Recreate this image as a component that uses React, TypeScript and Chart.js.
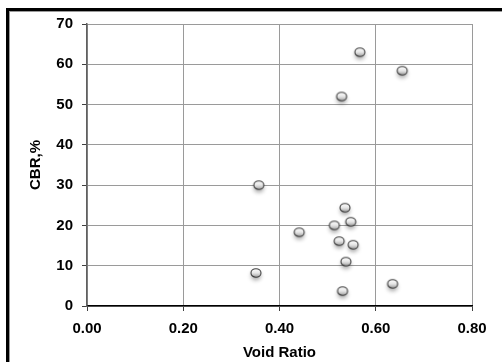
import React, { useEffect, useRef } from "react";
import { Chart, registerables } from "chart.js";

Chart.register(...registerables);

const voidRatio = [0.567, 0.655, 0.529, 0.357, 0.536, 0.548, 0.514, 0.441, 0.524, 0.553, 0.538, 0.351, 0.635, 0.531];
const cbr = [63.0, 58.4, 52.0, 30.0, 24.4, 20.9, 20.0, 18.3, 16.1, 15.2, 11.0, 8.2, 5.5, 3.7];
const xTicks = [0, 0.2, 0.4, 0.6, 0.8];
const yTicks = [0, 10, 20, 30, 40, 50, 60, 70];

function makeMarker(): HTMLCanvasElement {
  const c = document.createElement("canvas");
  c.width = 24;
  c.height = 24;
  const ctx = c.getContext("2d")!;
  ctx.save();
  ctx.shadowColor = "rgba(0,0,0,0.35)";
  ctx.shadowBlur = 4;
  ctx.shadowOffsetY = 3;
  ctx.beginPath();
  ctx.ellipse(12, 12, 5, 4.3, 0, 0, Math.PI * 2);
  const g = ctx.createLinearGradient(12, 7.5, 12, 16.5);
  g.addColorStop(0, "#ffffff");
  g.addColorStop(0.5, "#e6e6e6");
  g.addColorStop(1, "#9a9a9a");
  ctx.fillStyle = g;
  ctx.fill();
  ctx.restore();
  ctx.beginPath();
  ctx.ellipse(12, 12, 5, 4.3, 0, 0, Math.PI * 2);
  ctx.lineWidth = 1.1;
  ctx.strokeStyle = "#3c3c3c";
  ctx.stroke();
  return c;
}

export default function App() {
  const ref = useRef<HTMLCanvasElement | null>(null);
  useEffect(() => {
    if (!ref.current) return;
    const marker = makeMarker();
    const font = { family: "'Liberation Sans', Arial, sans-serif", size: 15, weight: "bold" as const };
    const chart = new Chart(ref.current, {
      type: "scatter",
      data: {
        datasets: [
          {
            data: voidRatio.map((v, i) => ({ x: v, y: cbr[i] })),
            pointStyle: marker,
            pointRadius: 6,
          },
        ],
      },
      options: {
        animation: false,
        responsive: false,
        devicePixelRatio: 1,
        layout: { padding: { left: 0, top: 24, right: 30, bottom: 0 } },
        plugins: { legend: { display: false }, tooltip: { enabled: false } },
        scales: {
          x: {
            type: "linear",
            min: 0,
            max: 0.8,
            afterFit: (s: any) => {
              s.height = 56;
            },
            afterBuildTicks: (s: any) => {
              s.ticks = xTicks.map((v) => ({ value: v }));
            },
            ticks: {
              color: "#000",
              font,
              padding: 9,
              maxRotation: 0,
              callback: (v: any) => Number(v).toFixed(2),
            },
            grid: { color: "#9a9a9a", tickColor: "#404040", tickLength: 5, lineWidth: 1 },
            border: { color: "#000", width: 1.5 },
            title: { display: true, text: "Void Ratio", color: "#000", font, padding: { top: 4, bottom: 0 } },
          },
          y: {
            type: "linear",
            min: 0,
            max: 70,
            afterFit: (s: any) => {
              s.width = 87;
            },
            afterBuildTicks: (s: any) => {
              s.ticks = yTicks.map((v) => ({ value: v }));
            },
            ticks: { color: "#000", font, padding: 9 },
            grid: { color: "#9a9a9a", tickColor: "#404040", tickLength: 5, lineWidth: 1 },
            border: { color: "#606060", width: 1.5 },
            title: { display: true, text: "CBR,%", color: "#000", font, padding: { top: 27, bottom: 0 } },
          },
        },
      },
    });
    return () => chart.destroy();
  }, []);
  return (
    <div style={{ position: "fixed", left: 0, top: 0, width: 502, height: 362, background: "#fff", overflow: "hidden" }}>
      <canvas ref={ref} width={502} height={362} style={{ position: "absolute", left: 0, top: 0, width: 502, height: 362 }} />
      <div
        style={{
          position: "absolute",
          left: 6,
          top: 8,
          width: 600,
          height: 500,
          borderLeft: "3px solid #000",
          borderTop: "3px solid #000",
          boxShadow: "inset 1px 1px 0 #9a9a9a",
          boxSizing: "border-box",
          pointerEvents: "none",
        }}
      />
    </div>
  );
}
